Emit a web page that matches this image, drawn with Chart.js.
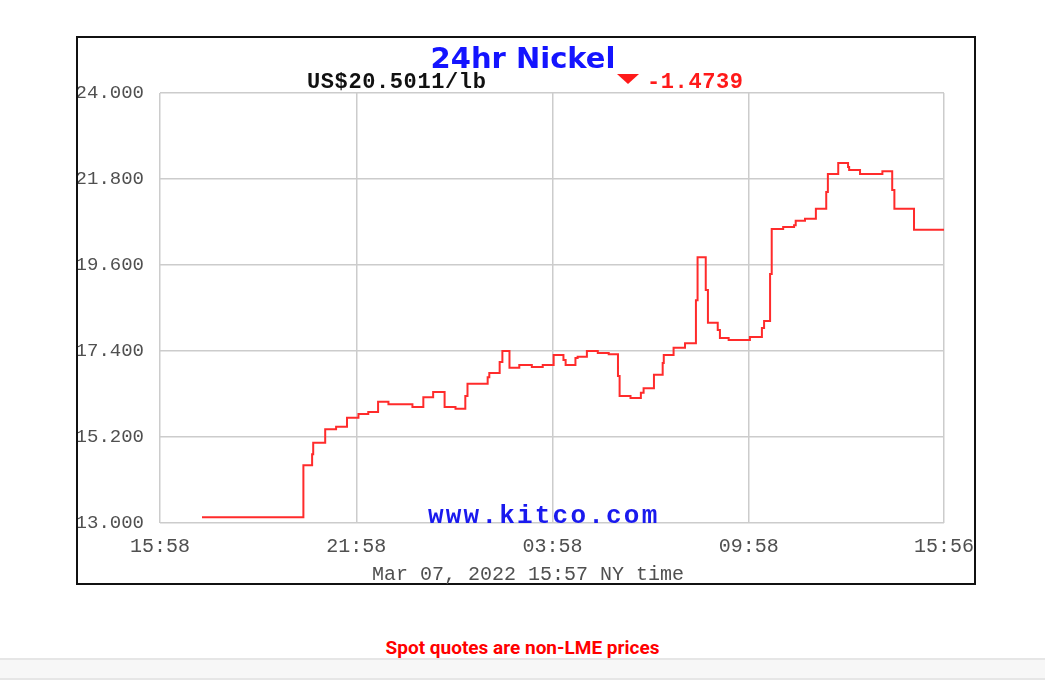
<!DOCTYPE html>
<html>
<head>
<meta charset="utf-8">
<script src="https://cdn.jsdelivr.net/npm/chart.js@4"></script>
<style>
  html, body { margin: 0; padding: 0; background: #fff; }
  body { width: 1045px; height: 689px; position: relative; overflow: hidden; }
  #box { position: absolute; left: 76px; top: 36px; width: 900px; height: 549px;
         box-sizing: border-box; border: 2px solid #111; background: #fff; }
  #wrap { position: absolute; left: 0; top: 0; width: 896px; height: 545px; }
  .t { position: absolute; white-space: nowrap; line-height: 1; }
  #title { left: -3px; width: 896px; text-align: center; top: 3px;
           font: bold 29px "DejaVu Sans", sans-serif; color: #1414ff; }
  #price { left: 229px; top: 32px; font: bold 22px "Liberation Mono", "DejaVu Sans Mono", monospace; color: #111; letter-spacing: 0.6px; }
  #tri { position: absolute; left: 539px; top: 36px; width: 0; height: 0;
         border-left: 11px solid transparent; border-right: 11px solid transparent; border-top: 10px solid #ff1a1a; }
  #chg { left: 569px; top: 32px; font: bold 22px "Liberation Mono", "DejaVu Sans Mono", monospace; color: #ff1a1a; letter-spacing: 0.6px; }
  #kitco { left: 350px; top: 463px; font: bold 26px "Liberation Mono", "DejaVu Sans Mono", monospace; color: #1a1aee; letter-spacing: 2.2px; }
  #caption { left: 294px; top: 525px; font: 20px "Liberation Mono", "DejaVu Sans Mono", monospace; color: #505050; }
  #note { position: absolute; left: 0; width: 1045px; top: 636px; text-align: center; line-height: 1.2;
          font: bold 19px Roboto, "Noto Sans", sans-serif; color: #ff0000; }
  #band { position: absolute; left: 0; width: 1045px; top: 658px; height: 18px;
          background: #f7f7f7; border-top: 2px solid #e6e6e6; border-bottom: 2px solid #e6e6e6; }
</style>
</head>
<body>
<div id="box">
  <div id="wrap"><canvas id="c"></canvas></div>
  <div class="t" id="title">24hr Nickel</div>
  <div class="t" id="price">US$20.5011/lb</div>
  <div id="tri"></div>
  <div class="t" id="chg">-1.4739</div>
  <div class="t" id="kitco">www.kitco.com</div>
  <div class="t" id="caption">Mar 07, 2022 15:57 NY time</div>
</div>
<div id="note">Spot quotes are non-LME prices</div>
<div id="band"></div>
<script>
// minutes after 15:58 (Mar 06) at which the price changed
const minutes = [77, 263, 279, 281, 303, 323, 343, 364, 382, 400, 419, 463, 483, 501, 522, 542, 560, 564,
  601, 604, 623, 628, 641, 659, 682, 702, 722, 740, 744, 762, 766, 783, 803, 823, 840, 843, 863, 882, 887,
  906, 922, 924, 942, 963, 983, 986, 1001, 1005, 1023, 1027, 1043, 1082, 1104, 1108, 1119, 1122, 1143,
  1163, 1166, 1183, 1203, 1222, 1225, 1244, 1262, 1264, 1284, 1325, 1343, 1347, 1383, 1438];
// nickel price, US$/lb
const prices = [13.15, 14.48, 14.76, 15.05, 15.40, 15.46, 15.69, 15.79, 15.84, 16.10, 16.04, 15.97, 16.22, 16.35, 15.97, 15.92, 16.25, 16.56,
  16.73, 16.84, 17.12, 17.40, 16.97, 17.04, 16.99, 17.04, 17.30, 17.17, 17.04, 17.22, 17.25, 17.40, 17.35, 17.32, 16.76, 16.25, 16.20, 16.33, 16.45,
  16.79, 17.09, 17.30, 17.48, 17.60, 18.70, 19.80, 18.96, 18.12, 17.94, 17.73, 17.68, 17.76, 17.99, 18.17, 19.37, 20.52, 20.57,
  20.62, 20.73, 20.78, 21.04, 21.47, 21.93, 22.21, 22.11, 22.03, 21.93, 22.00, 21.52, 21.04, 20.50, 20.50];
const xTickValues = [0, 360, 720, 1080, 1438];
const xTickLabels = ["15:58", "21:58", "03:58", "09:58", "15:56"];
const yTickValues = [13.0, 15.2, 17.4, 19.6, 21.8, 24.0];

const points = minutes.map((m, i) => ({ x: m, y: prices[i] }));
const mono = '"Liberation Mono", "DejaVu Sans Mono", monospace';

new Chart(document.getElementById('c'), {
  type: 'line',
  data: { datasets: [{ data: points, stepped: true, borderColor: '#ff2b2b', borderWidth: 2,
                        pointRadius: 0, fill: false }] },
  options: {
    responsive: true, maintainAspectRatio: false, animation: false,
    layout: { padding: { left: 0, right: 30, top: 55, bottom: 0 } },
    plugins: { legend: { display: false }, tooltip: { enabled: false } },
    scales: {
      x: {
        type: 'linear', min: 0, max: 1438,
        afterBuildTicks: s => { s.ticks = xTickValues.map(v => ({ value: v })); },
        afterFit: s => { s.height = 60; s.paddingLeft = 0; s.paddingRight = 0; },
        grid: { color: '#cccccc', lineWidth: 1.5, drawTicks: false },
        border: { display: false },
        ticks: { padding: 12, maxRotation: 0, autoSkip: false, color: '#505050',
                 font: { family: mono, size: 20 },
                 callback: v => xTickLabels[xTickValues.indexOf(v)] }
      },
      y: {
        min: 13, max: 24,
        afterBuildTicks: s => { s.ticks = yTickValues.map(v => ({ value: v })); },
        afterFit: s => { s.width = 82; s.paddingTop = 0; s.paddingBottom = 0; },
        grid: { color: '#cccccc', lineWidth: 1.5, drawTicks: false },
        border: { display: false },
        ticks: { padding: 16, color: '#505050', font: { family: mono, size: 19 },
                 callback: v => Number(v).toFixed(3) }
      }
    }
  }
});
</script>
</body>
</html>
